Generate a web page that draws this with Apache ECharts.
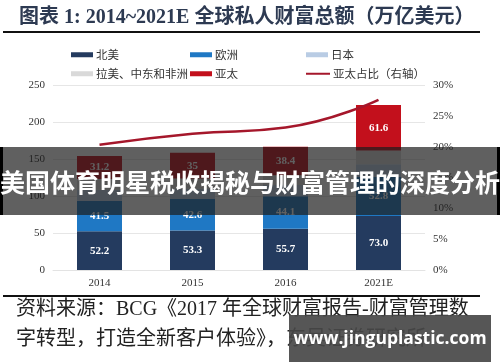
<!DOCTYPE html>
<html>
<head>
<meta charset="utf-8">
<script src="https://cdn.jsdelivr.net/npm/echarts@6/dist/echarts.min.js"></script>
<style>
html,body{margin:0;padding:0;background:#fff;}
#c{width:500px;height:362px;}
</style>
</head>
<body>
<div id="c"></div>
<script>
var categories = ['2014', '2015', '2016', '2021E'];
var northAmerica = [52.2, 53.3, 55.7, 73.0];
var europe = [41.5, 42.6, 44.1, 52.8];
var japan = [14.6, 14.4, 15.0, 17.0];
var latamMea = [14.7, 13.2, 13.3, 18.7];
var asiaPacific = [31.2, 35, 38.4, 61.6];
var apShare = [20.3, 22.1, 23.1, 27.6];
var leftTicks = [0, 50, 100, 150, 200, 250];
var rightTicks = [0, 5, 10, 15, 20, 25, 30];

var serif = "'Liberation Serif','Noto Sans CJK SC',serif";
var cjk = "'Noto Sans CJK SC','Liberation Serif',sans-serif";

var chart = echarts.init(document.getElementById('c'), null, {renderer: 'canvas'});

function barLabel(fixed) {
  return {
    show: true,
    position: 'inside',
    color: '#fff',
    fontFamily: serif,
    fontWeight: 'bold',
    fontSize: 11,
    formatter: function (p) { return fixed ? Number(p.value).toFixed(1) : String(p.value); }
  };
}

function legendAt(name, left, top, isLine) {
  return {
    data: [{name: name, icon: 'rect'}],
    left: left,
    top: top,
    itemWidth: isLine ? 24 : 22,
    itemHeight: isLine ? 2 : 5,
    itemGap: 3,
    textStyle: {fontFamily: cjk, fontSize: 11.5, color: '#333', padding: [0, 0, 0, -2]},
    selectedMode: false
  };
}

var option = {
  animation: false,
  backgroundColor: '#fff',
  title: {
    text: '图表 1: 2014~2021E 全球私人财富总额（万亿美元）',
    left: 14,
    top: 3,
    textStyle: {fontFamily: serif, fontSize: 20, fontWeight: 'bold', color: '#2d3a52'}
  },
  legend: [
    legendAt('北美', 66, 44, false),
    legendAt('欧洲', 185, 44, false),
    legendAt('日本', 301, 44, false),
    legendAt('拉美、中东和非洲', 66, 63, false),
    legendAt('亚太', 185, 63, false),
    legendAt('亚太占比（右轴）', 301, 63, true)
  ],
  grid: {left: 53, right: 75, top: 85, bottom: 92},
  xAxis: {
    type: 'category',
    data: categories,
    axisTick: {show: false},
    axisLine: {show: true, lineStyle: {color: '#e3e3e3'}},
    axisLabel: {fontFamily: serif, fontSize: 11, color: '#333', margin: 8}
  },
  yAxis: [
    {
      type: 'value', min: leftTicks[0], max: leftTicks[leftTicks.length - 1], interval: 50,
      axisLine: {show: false}, axisTick: {show: false},
      splitLine: {lineStyle: {color: '#e6e6e6'}},
      axisLabel: {fontFamily: serif, fontSize: 11, color: '#333', margin: 8}
    },
    {
      type: 'value', min: rightTicks[0], max: rightTicks[rightTicks.length - 1], interval: 5,
      axisLine: {show: false}, axisTick: {show: false},
      splitLine: {show: false},
      axisLabel: {fontFamily: serif, fontSize: 11, color: '#333', margin: 8, formatter: '{value}%'}
    }
  ],
  series: [
    {name: '北美', type: 'bar', stack: 't', data: northAmerica, barWidth: 45,
      itemStyle: {color: '#243b5f'}, label: barLabel(true)},
    {name: '欧洲', type: 'bar', stack: 't', data: europe,
      itemStyle: {color: '#1f78c4'}, label: barLabel(true)},
    {name: '日本', type: 'bar', stack: 't', data: japan,
      itemStyle: {color: '#b9cce4'}},
    {name: '拉美、中东和非洲', type: 'bar', stack: 't', data: latamMea,
      itemStyle: {color: '#d9d9d9'}},
    {name: '亚太', type: 'bar', stack: 't', data: asiaPacific,
      itemStyle: {color: '#c3101c'}, label: barLabel(false)},
    {name: '亚太占比（右轴）', type: 'line', yAxisIndex: 1, data: apShare, smooth: true,
      showSymbol: false, symbol: 'none', lineStyle: {color: '#a5172b', width: 2.5},
      itemStyle: {color: '#a5172b'}, z: 5}
  ],
  graphic: [
    {type: 'line', shape: {x1: 3, y1: 32, x2: 480, y2: 32}, style: {stroke: '#111', lineWidth: 2}, z: 10},
    {type: 'line', shape: {x1: 3, y1: 296, x2: 480, y2: 296}, style: {stroke: '#111', lineWidth: 2}, z: 10},
    {type: 'text', x: 16, y: 300, style: {text: '资料来源：BCG《2017 年全球财富报告-财富管理数', font: "20px 'Liberation Serif','Noto Sans CJK SC'", fill: '#222'}, z: 10},
    {type: 'text', x: 16, y: 330, style: {text: '字转型，打造全新客户体验》，东吴证券研究所', font: "20px 'Liberation Serif','Noto Sans CJK SC'", fill: '#222'}, z: 10},
    {type: 'rect', shape: {x: 0, y: 147, width: 500, height: 68}, style: {fill: 'rgba(28,28,28,0.7)'}, z: 100},
    {type: 'rect', shape: {x: 0, y: 147, width: 3, height: 68}, style: {fill: '#000'}, z: 101},
    {type: 'rect', shape: {x: 497, y: 147, width: 3, height: 68}, style: {fill: '#000'}, z: 101},
    {type: 'text', x: 250, y: 182, style: {text: '美国体育明星税收揭秘与财富管理的深度分析', font: "bold 25px 'Noto Sans CJK SC'", fill: '#fff', align: 'center', verticalAlign: 'middle'}, z: 102},
    {type: 'rect', shape: {x: 289, y: 315, width: 202, height: 47}, style: {fill: 'rgba(72,72,72,0.92)'}, z: 100},
    {type: 'text', x: 390, y: 339, style: {text: 'www.jinguplastic.com', font: "bold 17.5px 'Open Sans','DejaVu Sans',sans-serif", fill: '#fff', align: 'center', verticalAlign: 'middle'}, z: 102}
  ]
};
chart.setOption(option);
</script>
</body>
</html>
